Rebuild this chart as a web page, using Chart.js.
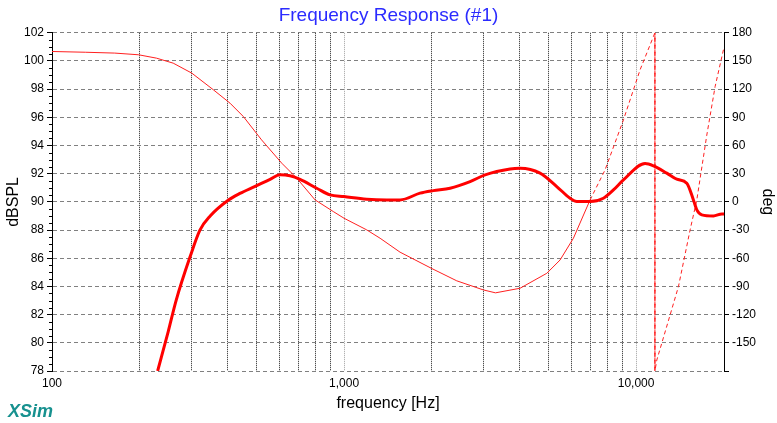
<!DOCTYPE html>
<html>
<head>
<meta charset="utf-8">
<script src="https://cdn.jsdelivr.net/npm/chart.js@4/dist/chart.umd.min.js"></script>
<style>
  html, body { margin: 0; padding: 0; background: #fff; }
</style>
</head>
<body>
<canvas id="fr-chart" width="777" height="423"></canvas>
<script>
// SPL curve (thick line, left axis)
const splFreq = [230, 250, 266, 297, 321, 348, 400, 440, 496, 558, 604, 653, 707, 806, 895, 1000,
  1196, 1400, 1555, 1821, 2022, 2307, 2701, 3040, 3703, 4007, 4690, 5350, 5943, 6267, 6958,
  7727, 8365, 9051, 10735, 11464, 12736, 13779, 14916, 15716, 16143, 16791, 18404, 19664, 20000];
const splDb = [78.0, 80.8, 83.0, 86.1, 88.0, 89.0, 90.1, 90.6, 91.1, 91.6, 91.92, 91.85, 91.6, 90.97, 90.5, 90.38,
  90.19, 90.14, 90.14, 90.62, 90.8, 90.97, 91.44, 91.92, 92.34, 92.39, 92.04, 91.09, 90.26, 90.02, 90.02,
  90.26, 90.85, 91.56, 92.72, 92.56, 92.04, 91.61, 91.33, 90.14, 89.43, 89.08, 89.0, 89.15, 89.15];

// Phase curve (thin line, right axis) - wraps from 180 to -180 near 11.6 kHz
const phaseFreq = [100, 130, 164, 198, 228, 260, 301, 357, 407, 452, 522, 612, 689, 796, 919, 1000,
  1196, 1329, 1555, 2000, 2432, 3000, 3300, 4007, 4945, 5493, 6100, 6958, 7831, 9051, 10320,
  11464, 11600, 11600, 11776, 13075, 13964, 15310, 16141, 17461, 18648, 19910, 20000];
const phaseDeg = [160.1, 159.3, 158.4, 156.6, 153.0, 147.7, 137.1, 119.3, 105.1, 90.9, 66.0, 41.2, 25.2, 2.1, -10.3, -17.4,
  -29.8, -38.7, -53.5, -71.0, -84.0, -93.7, -96.8, -91.9, -76.0, -61.8, -38.7, 2.1, 34.1, 87.3, 140.6,
  176.0, 180, -180, -168.3, -120.4, -90.2, -29.8, 2.1, 71.0, 122.8, 161.9, 164.0];

// axis ticks
const freqGrid = [100, 200, 300, 400, 500, 600, 700, 800, 900, 1000, 2000, 3000, 4000, 5000,
  6000, 7000, 8000, 9000, 10000, 20000];
const freqLabelValues = [100, 1000, 10000];
const freqLabelText = ['100', '1,000', '10,000'];
const decadeLines = [1000, 10000];

const FONT = 'Arial, "Liberation Sans", sans-serif';

// minor ticks on the dB axis + the XSim mark
const extras = {
  id: 'extras',
  afterDraw(chart) {
    const ctx = chart.ctx;
    const y = chart.scales.y;
    ctx.save();
    ctx.strokeStyle = '#000';
    ctx.lineWidth = 1;
    ctx.beginPath();
    for (let v = y.min; v <= y.max; v += 0.5) {
      if (v % 2 === 0) continue;
      const py = Math.round(y.getPixelForValue(v)) + 0.5;
      ctx.moveTo(y.right - 3, py);
      ctx.lineTo(y.right, py);
    }
    ctx.stroke();
    ctx.font = 'italic bold 18px ' + FONT;
    ctx.fillStyle = '#17918f';
    ctx.fillText('XSim', 8, 417);
    ctx.restore();
  }
};

const ctx = document.getElementById('fr-chart').getContext('2d');

new Chart(ctx, {
  type: 'line',
  data: {
    datasets: [
      {
        label: 'SPL',
        data: splFreq.map((f, i) => ({ x: f, y: splDb[i] })),
        borderColor: '#ff0000',
        borderWidth: 3,
        pointRadius: 0,
        cubicInterpolationMode: 'monotone',
        yAxisID: 'y',
      },
      {
        label: 'Phase',
        data: phaseFreq.map((f, i) => ({ x: f, y: phaseDeg[i] })),
        borderColor: '#ff2020',
        borderWidth: 1,
        pointRadius: 0,
        tension: 0,
        yAxisID: 'y1',
        segment: {
          borderDash: c => c.p0.parsed.x >= 6900 ? [4, 3] : undefined,
        },
      },
    ]
  },
  options: {
    responsive: false,
    animation: false,
    layout: { padding: 0 },
    plugins: {
      legend: { display: false },
      tooltip: { enabled: false },
      title: {
        display: true,
        text: 'Frequency Response (#1)',
        color: '#2b2bff',
        font: { family: FONT, size: 19, weight: 'normal' },
        padding: { top: 4, bottom: 6 },
      },
    },
    scales: {
      x: {
        type: 'logarithmic',
        min: 100,
        max: 20000,
        afterBuildTicks: axis => { axis.ticks = freqGrid.map(v => ({ value: v })); },
        afterFit: scale => { scale.height = 52; },
        ticks: {
          autoSkip: false,
          maxRotation: 0,
          padding: 5,
          color: '#000',
          font: { family: FONT, size: 12 },
          callback: value => {
            const i = freqLabelValues.indexOf(value);
            return i >= 0 ? freqLabelText[i] : '';
          },
        },
        grid: {
          drawTicks: false,
          color: c => (c.tick && decadeLines.includes(c.tick.value)) ? '#a0a0a0' : '#222',
        },
        border: { display: false, dash: [1, 1] },
        title: {
          display: true,
          text: 'frequency [Hz]',
          color: '#000',
          font: { family: FONT, size: 16 },
          padding: { top: 0, bottom: 10 },
        },
      },
      y: {
        position: 'left',
        min: 78,
        max: 102,
        afterFit: scale => { scale.width = 52; },
        ticks: {
          stepSize: 2,
          padding: 3,
          color: '#000',
          font: { family: FONT, size: 12 },
        },
        grid: {
          display: true,
          drawOnChartArea: true,
          lineWidth: 1,
          color: '#808080',
          tickLength: 5,
          tickColor: '#000',
        },
        border: { display: true, color: '#000', width: 1, dash: [4, 3] },
        title: {
          display: true,
          text: 'dBSPL',
          color: '#000',
          font: { family: FONT, size: 16 },
          padding: { top: 4, bottom: 0 },
        },
      },
      y1: {
        position: 'right',
        min: -180,
        max: 180,
        afterFit: scale => { scale.width = 53; },
        ticks: {
          stepSize: 30,
          padding: 3,
          color: '#000',
          font: { family: FONT, size: 12 },
          callback: value => value === -180 ? '' : value,
        },
        grid: {
          drawOnChartArea: false,
          tickLength: 5,
          tickColor: '#000',
        },
        border: { display: true, color: '#000', width: 1 },
        title: {
          display: true,
          text: 'deg',
          color: '#000',
          font: { family: FONT, size: 16 },
          padding: { top: 0, bottom: 0 },
        },
      },
    }
  },
  plugins: [extras]
});
</script>
</body>
</html>
